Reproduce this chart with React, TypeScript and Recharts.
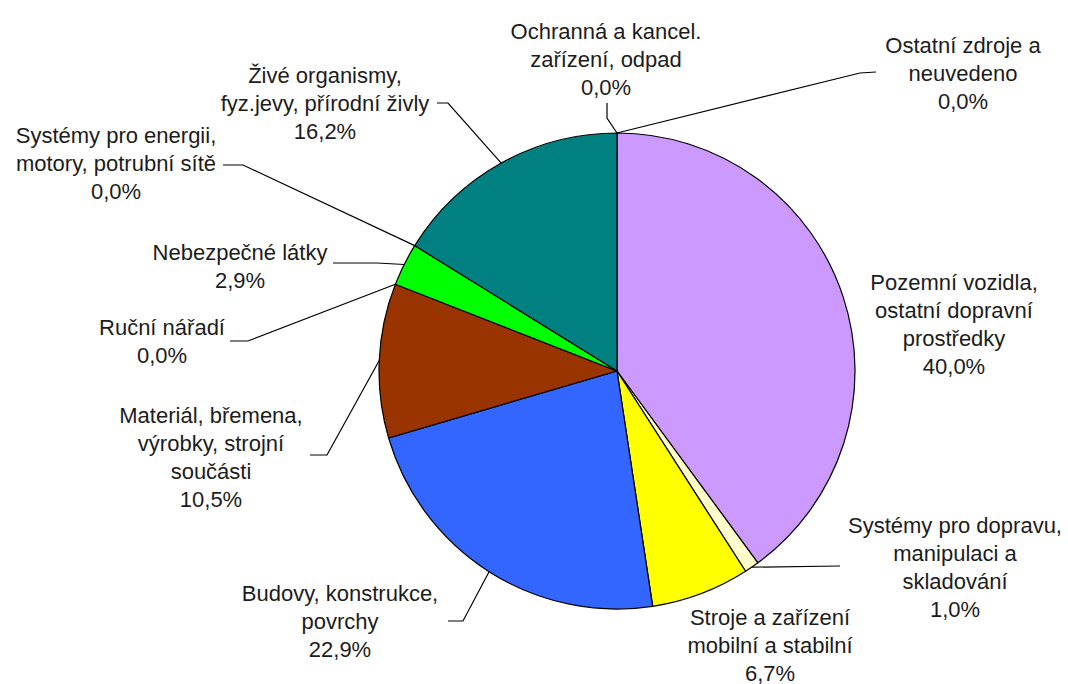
import { PieChart, Pie, Cell } from "recharts";

// categories, clockwise from 12 o'clock
const CATEGORIES: string[][] = [
  ["Pozemní vozidla,", "ostatní dopravní", "prostředky"],
  ["Systémy pro dopravu,", "manipulaci a", "skladování"],
  ["Stroje a zařízení", "mobilní a stabilní"],
  ["Budovy, konstrukce,", "povrchy"],
  ["Materiál, břemena,", "výrobky, strojní", "součásti"],
  ["Ruční nářadí"],
  ["Nebezpečné látky"],
  ["Systémy pro energii,", "motory, potrubní sítě"],
  ["Živé organismy,", "fyz.jevy, přírodní živly"],
  ["Ochranná a kancel.", "zařízení, odpad"],
  ["Ostatní zdroje a", "neuvedeno"],
];

const SHARES: number[] = [40.0, 1.0, 6.7, 22.9, 10.5, 0.0, 2.9, 0.0, 16.2, 0.0, 0.0];

const COLORS: string[] = [
  "#cc99ff",
  "#ffffcc",
  "#ffff00",
  "#3366ff",
  "#993300",
  "#ff9900",
  "#00ff00",
  "#808080",
  "#008080",
  "#c0c0c0",
  "#ff00ff",
];

// label layout: text centre x, first line centre y
const LABEL_POS: [number, number][] = [
  [954, 282],
  [955, 525],
  [770, 617],
  [340, 593],
  [211, 415],
  [162, 327],
  [240, 252],
  [116, 135],
  [325, 75],
  [606, 31],
  [963, 45],
];

// leader line points from the label towards the pie edge (null = no leader)
const LEADERS: ([number, number][] | null)[] = [
  null,
  [[840, 566]],
  null,
  [[448, 621], [463, 621]],
  [[310, 455], [327, 455]],
  [[230, 341], [248, 341]],
  [[333, 263], [377, 263]],
  [[223, 165], [243, 165]],
  [[437, 103], [448, 103]],
  [[607, 103], [607, 118]],
  [[876, 72], [860, 73]],
];

const data = CATEGORIES.map((lines, i) => ({
  name: lines.join(" "),
  value: SHARES[i],
}));

const LINE_H = 28;
const RAD = Math.PI / 180;

const fmt = (v: number) => v.toFixed(1).replace(".", ",") + "%";

const renderLabel = (props: any) => {
  const { cx, cy, midAngle, outerRadius, index } = props;
  const [tx, ty] = LABEL_POS[index];
  const lines = [...CATEGORIES[index], fmt(SHARES[index])];
  const leader = LEADERS[index];
  const ax = cx + outerRadius * Math.cos(-midAngle * RAD);
  const ay = cy + outerRadius * Math.sin(-midAngle * RAD);
  return (
    <g key={`lbl-${index}`}>
      {leader && (
        <polyline
          points={[...leader, [ax, ay]].map((p) => p.join(",")).join(" ")}
          fill="none"
          stroke="#000"
          strokeWidth={1.2}
        />
      )}
      <text
        x={tx}
        y={ty}
        textAnchor="middle"
        fill="#1c1c1c"
        fontSize={22}
        fontFamily="'Liberation Sans', Arial, sans-serif"
      >
        {lines.map((t, i) => (
          <tspan key={i} x={tx} y={ty + i * LINE_H} dominantBaseline="central">
            {t}
          </tspan>
        ))}
      </text>
    </g>
  );
};

export default function App() {
  return (
    <div style={{ position: "absolute", left: 0, top: 0, background: "#fff" }}>
      <PieChart
        width={1068}
        height={684}
        margin={{ top: 0, right: 0, bottom: 0, left: 0 }}
      >
        <Pie
          data={data}
          dataKey="value"
          nameKey="name"
          cx={617}
          cy={371}
          outerRadius={238}
          startAngle={90}
          endAngle={-270}
          stroke="#000"
          strokeWidth={1.2}
          label={renderLabel}
          labelLine={false}
          isAnimationActive={false}
        >
          {data.map((entry, index) => (
            <Cell key={entry.name} fill={COLORS[index]} />
          ))}
        </Pie>
      </PieChart>
    </div>
  );
}
